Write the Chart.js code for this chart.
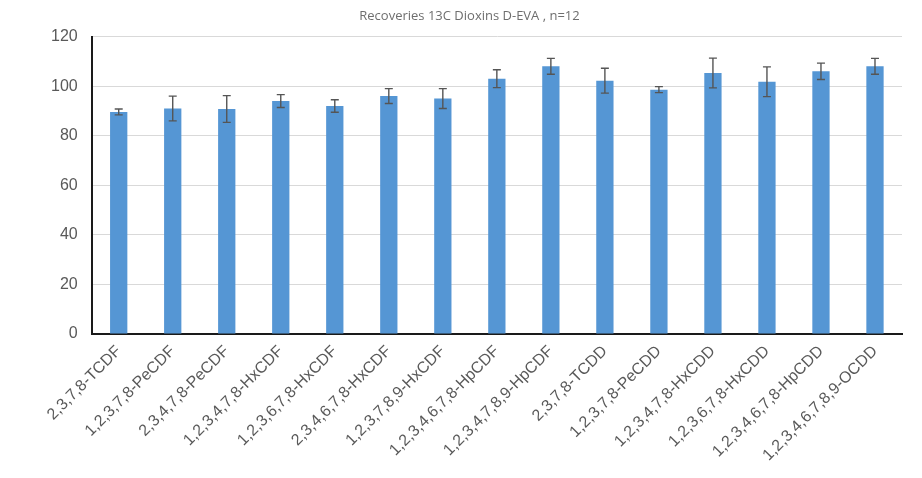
<!DOCTYPE html>
<html>
<head>
<meta charset="utf-8">
<script src="https://cdn.jsdelivr.net/npm/chart.js@4/dist/chart.umd.min.js"></script>
<style>
  html, body { margin: 0; padding: 0; background: #ffffff; }
  #wrap { width: 922px; height: 478px; }
</style>
</head>
<body>
<div id="wrap"><canvas id="c"></canvas></div>
<script>
const categories = [
  "2,3,7,8-TCDF", "1,2,3,7,8-PeCDF", "2,3,4,7,8-PeCDF", "1,2,3,4,7,8-HxCDF",
  "1,2,3,6,7,8-HxCDF", "2,3,4,6,7,8-HxCDF", "1,2,3,7,8,9-HxCDF", "1,2,3,4,6,7,8-HpCDF",
  "1,2,3,4,7,8,9-HpCDF", "2,3,7,8-TCDD", "1,2,3,7,8-PeCDD", "1,2,3,4,7,8-HxCDD",
  "1,2,3,6,7,8-HxCDD", "1,2,3,4,6,7,8-HpCDD", "1,2,3,4,6,7,8,9-OCDD"
];
const recoveries = [89.6, 91.0, 90.8, 94.0, 92.0, 96.0, 95.0, 103.0, 108.0, 102.2, 98.6, 105.3, 101.8, 106.0, 108.0];
const stdDev =     [1.2, 5.0, 5.4, 2.6, 2.5, 3.0, 4.0, 3.6, 3.2, 5.0, 1.2, 6.0, 6.0, 3.3, 3.2];
const yTicks = [0, 20, 40, 60, 80, 100, 120];

const errorBars = {
  id: 'errorBars',
  afterDatasetsDraw(chart) {
    const ctx = chart.ctx;
    const meta = chart.getDatasetMeta(0);
    const ys = chart.scales.y;
    ctx.save();
    ctx.strokeStyle = '#555555';
    ctx.lineWidth = 1.4;
    meta.data.forEach((bar, i) => {
      const x = bar.x;
      const top = ys.getPixelForValue(recoveries[i] + stdDev[i]);
      const bot = ys.getPixelForValue(recoveries[i] - stdDev[i]);
      ctx.beginPath();
      ctx.moveTo(x, top); ctx.lineTo(x, bot);
      ctx.moveTo(x - 4, top); ctx.lineTo(x + 4, top);
      ctx.moveTo(x - 4, bot); ctx.lineTo(x + 4, bot);
      ctx.stroke();
    });
    ctx.restore();
  }
};

new Chart(document.getElementById('c'), {
  type: 'bar',
  data: {
    labels: categories,
    datasets: [{
      data: recoveries,
      backgroundColor: '#5596d4',
      borderWidth: 0,
      categoryPercentage: 1.0,
      barPercentage: 0.32
    }]
  },
  options: {
    responsive: true,
    maintainAspectRatio: false,
    animation: false,
    devicePixelRatio: 1,
    layout: { padding: { left: 37, right: 20, top: 0, bottom: 5 } },
    plugins: {
      legend: { display: false },
      tooltip: { enabled: false },
      title: {
        display: true,
        text: 'Recoveries 13C Dioxins D-EVA , n=12',
        color: '#6e6e6e',
        font: { family: 'Open Sans', size: 13, weight: 'normal' },
        padding: { top: 8, bottom: 13 }
      }
    },
    scales: {
      x: {
        grid: { display: false, drawTicks: false },
        border: { display: true, color: '#1a1a1a', width: 2 },
        ticks: {
          color: '#595959',
          font: { family: 'Liberation Sans', size: 16 },
          maxRotation: 45,
          minRotation: 45,
          autoSkip: false,
          padding: 8
        }
      },
      y: {
        min: 0,
        max: 120,
        afterBuildTicks(scale) { scale.ticks = yTicks.map(v => ({ value: v })); },
        grid: { color: '#d9d9d9', lineWidth: 1, drawTicks: false },
        border: { display: true, color: '#1a1a1a', width: 2 },
        ticks: {
          color: '#595959',
          font: { family: 'Liberation Sans', size: 16 },
          padding: 14
        }
      }
    }
  },
  plugins: [errorBars]
});
</script>
</body>
</html>
